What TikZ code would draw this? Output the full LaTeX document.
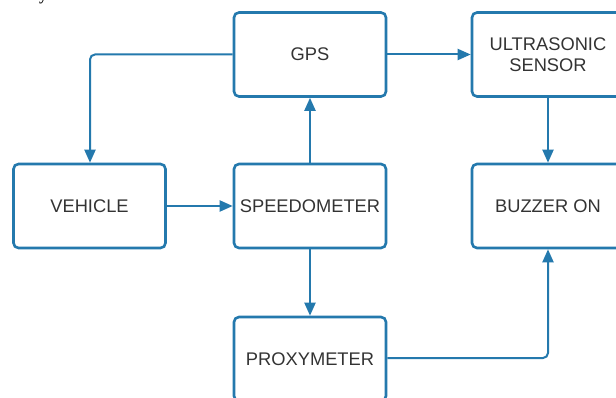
\documentclass[tikz,border=0pt]{standalone}
\usepackage{fontspec}
\setmainfont{Liberation Sans}
\newfontfamily\serifpart{Liberation Serif}
\usetikzlibrary{arrows.meta}
\definecolor{boxblue}{HTML}{2479AD}
\definecolor{txt}{HTML}{333333}
\tikzset{
  blk/.style={draw=boxblue, line width=2.6pt, rounded corners=5pt, fill=white,
    minimum width=152pt, minimum height=84pt, inner sep=0pt, align=center,
    text=txt, font=\fontsize{18.3}{21.5}\selectfont},
  conn/.style={draw=boxblue, line width=2pt, rounded corners=5pt,
    -{Triangle[length=13pt,width=11pt]}}
}
\begin{document}
\begin{tikzpicture}[x=1pt,y=-1pt]
\useasboundingbox (0,0) rectangle (616,398);
\clip (0,0) rectangle (616,398);
\fill[white] (0,0) rectangle (616,398);
\node[font=\serifpart\bfseries\fontsize{16}{18}\selectfont, text=black, anchor=base, inner sep=0pt] (frag) at (43,0.5) {y};
\node[blk] (gps) at (310,54.5) {GPS};
\node[blk] (ultra) at (548,54.5) {ULTRASONIC\\SENSOR};
\node[blk] (veh) at (89.5,206) {VEHICLE};
\node[blk] (speed) at (310,206) {SPEEDOMETER};
\node[blk] (buzz) at (548,206) {BUZZER ON};
\node[blk] (prox) at (310,359) {PROXYMETER};
\coordinate (c1) at (90,54.5);
\coordinate (c2) at (548,358);
\draw[conn] (gps.west) -- (c1) -- (veh.north -| c1);
\draw[conn] (gps.east) -- (ultra.west);
\draw[conn] (ultra.south) -- (buzz.north);
\draw[conn] (veh.east) -- (speed.west);
\draw[conn] (speed.north) -- (gps.south);
\draw[conn] (speed.south) -- (prox.north);
\draw[conn] (prox.east |- c2) -- (c2) -- (buzz.south);
\end{tikzpicture}
\end{document}
